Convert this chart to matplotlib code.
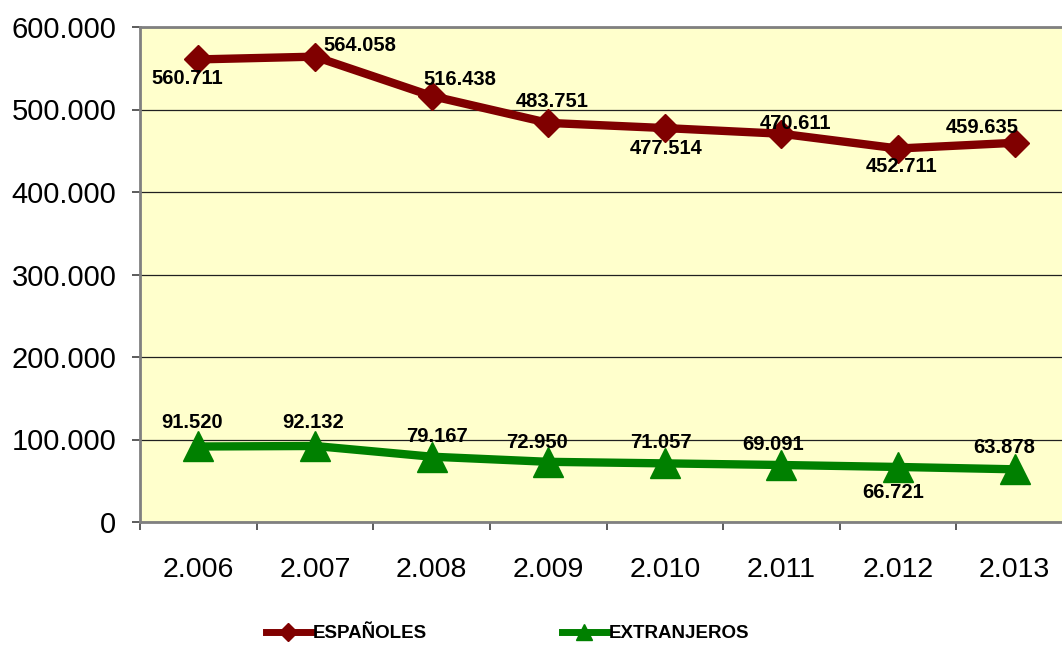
import matplotlib
matplotlib.use("Agg")
import matplotlib.pyplot as plt
from matplotlib.lines import Line2D

plt.rcParams["font.family"] = ["Liberation Sans", "DejaVu Sans"]

years = ["2.006", "2.007", "2.008", "2.009", "2.010", "2.011", "2.012", "2.013"]
espanoles = [560711, 564058, 516438, 483751, 477514, 470611, 452711, 459635]
extranjeros = [91520, 92132, 79167, 72950, 71057, 69091, 66721, 63878]
y_ticks = [0, 100000, 200000, 300000, 400000, 500000, 600000]

# label offsets in pixels (dx, dy) from each marker
esp_offsets = [(-11, -19), (45, 11), (28, 16), (4, 21), (1, -20), (14, 10), (4, -18), (-32, 15)]
ext_offsets = [(-6, 24), (-2, 23), (5, 20), (-11, 19), (-4, 21), (-8, 20), (-5, -26), (-11, 22)]

RED = "#800000"
GREEN = "#008000"


def fmt(v):
    return f"{v:,}".replace(",", ".")


fig = plt.figure(figsize=(10.62, 6.46), dpi=100)
ax = fig.add_axes([140 / 1062, 1 - 522 / 646, 933 / 1062, 495 / 646])
ax.set_facecolor("#FFFFCC")

x = [i + 0.5 for i in range(len(years))]
ax.plot(x, espanoles, color=RED, lw=6, marker="D", ms=14, mec=RED, zorder=3)
ax.plot(x, extranjeros, color=GREEN, lw=6, marker="^", ms=21, mec=GREEN, zorder=3)

for xi, v, (dx, dy) in zip(x, espanoles, esp_offsets):
    ax.annotate(fmt(v), (xi, v), xytext=(dx, dy), textcoords="offset pixels",
                ha="center", va="center", fontsize=14.5, fontweight="bold", zorder=4)
for xi, v, (dx, dy) in zip(x, extranjeros, ext_offsets):
    ax.annotate(fmt(v), (xi, v), xytext=(dx, dy), textcoords="offset pixels",
                ha="center", va="center", fontsize=14.5, fontweight="bold", zorder=4)

ax.set_xlim(0, len(years))
ax.set_ylim(0, 600000)
ax.set_yticks(y_ticks)
ax.set_yticklabels([fmt(t) for t in y_ticks], fontsize=21)
ax.set_xticks(range(len(years) + 1))
ax.set_xticklabels([])
ax.set_xticks(x, minor=True)
ax.set_xticklabels(years, minor=True, fontsize=20.5)
ax.tick_params(axis="x", which="minor", length=0, pad=25)
ax.tick_params(axis="x", which="major", length=6, width=1.2, color="#404040")
ax.tick_params(axis="y", length=6, width=1.2, color="#404040", pad=11)

ax.yaxis.grid(True, color="#202020", lw=0.9)
ax.set_axisbelow(True)
for side in ["left", "bottom", "top", "right"]:
    ax.spines[side].set_color("#808080")
    ax.spines[side].set_linewidth(2)

handles = [
    Line2D([], [], color=RED, lw=5, marker="D", ms=9),
    Line2D([], [], color=GREEN, lw=5, marker="^", ms=12),
]
fig.legend(handles, ["ESPAÑOLES", "EXTRANJEROS"], ncol=2, loc="center",
           bbox_to_anchor=(0.478, 0.019), frameon=False,
           prop={"size": 13.5, "weight": "bold"}, handlelength=2.4,
           handletextpad=0.1, columnspacing=7.2)

fig.savefig("out.png", dpi=100)
